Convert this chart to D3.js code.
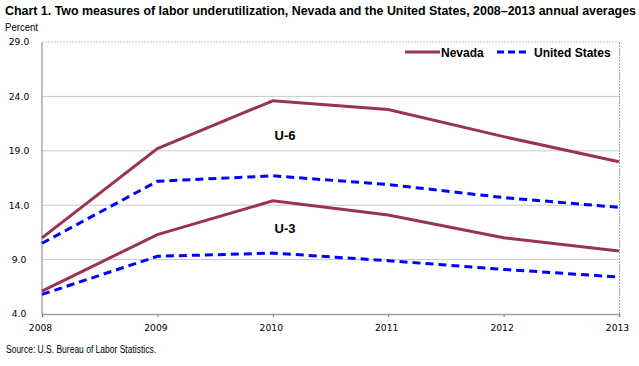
<!DOCTYPE html>
<html><head><meta charset="utf-8">
<script src="https://cdn.jsdelivr.net/npm/d3@7"></script>
<style>body{margin:0;background:#fff}svg{display:block}</style>
</head><body>
<svg id="c" width="639" height="366"></svg>
<script>
const years = [2008, 2009, 2010, 2011, 2012, 2013];
const nevadaU6 = [11.0, 19.2, 23.6, 22.8, 20.3, 18.0];
const usU6 = [10.5, 16.2, 16.7, 15.9, 14.7, 13.8];
const nevadaU3 = [6.1, 11.3, 14.4, 13.1, 11.0, 9.8];
const usU3 = [5.8, 9.3, 9.6, 8.9, 8.1, 7.4];
const yTicks = [4, 9, 14, 19, 24, 29];

const svg = d3.select("#c");
const x = d3.scaleLinear().domain([2008, 2013]).range([42, 619]);
const y = d3.scaleLinear().domain([4, 29]).range([314, 42]);

// gridlines
svg.append("g").selectAll("line").data(yTicks.filter(d => d > 4)).join("line")
  .attr("x1", 42).attr("x2", 619).attr("y1", d => y(d)).attr("y2", d => y(d))
  .attr("stroke", "#c4ccc4").attr("stroke-width", 1)
  .attr("stroke-dasharray", d => d === 29 ? "2,1" : null);
// right border
svg.append("line").attr("x1", 619.5).attr("x2", 619.5).attr("y1", 42).attr("y2", 314)
  .attr("stroke", "#a0a0a0").attr("stroke-dasharray", "2,1");

// y axis
const ya = d3.axisLeft(y).tickValues(yTicks).tickFormat(d3.format(".1f")).tickSize(0).tickPadding(0);
const yg = svg.append("g").attr("transform", "translate(41.5,0)").call(ya);
yg.select(".domain").attr("stroke", "#808080");
yg.selectAll("text").attr("font-family", "DejaVu Sans").attr("font-size", 9.2).attr("fill", "#000")
  .attr("text-anchor", "middle").attr("x", -22.5);

// x axis
const xa = d3.axisBottom(x).tickValues(years).tickFormat(d3.format("d")).tickSize(3).tickPadding(7);
const xg = svg.append("g").attr("transform", "translate(0,314)").call(xa);
xg.select(".domain").attr("stroke", "#a0a8a0").attr("stroke-width", 1.5);
xg.selectAll(".tick line").attr("stroke", "#808080");
xg.selectAll("text").attr("font-family", "DejaVu Sans").attr("font-size", 9.2).attr("fill", "#000")
  .attr("dx", -2);

const line = d3.line().x((d, i) => x(years[i])).y(d => y(d));
const series = [
  {v: usU6, c: "#0000ff", dash: "8,5"},
  {v: usU3, c: "#0000ff", dash: "8,5"},
  {v: nevadaU6, c: "#993355", dash: null},
  {v: nevadaU3, c: "#993355", dash: null}
];
series.forEach(s => {
  svg.append("path").datum(s.v).attr("d", line).attr("fill", "none")
    .attr("stroke", s.c).attr("stroke-width", 3).attr("stroke-dasharray", s.dash);
});

// series labels
svg.append("text").attr("x", 285).attr("y", 140).attr("text-anchor", "middle")
  .attr("font-family", "Liberation Sans").attr("font-weight", "bold").attr("font-size", 13).text("U-6");
svg.append("text").attr("x", 285).attr("y", 233).attr("text-anchor", "middle")
  .attr("font-family", "Liberation Sans").attr("font-weight", "bold").attr("font-size", 13).text("U-3");

// legend
const lg = svg.append("g");
lg.append("line").attr("x1", 405).attr("x2", 440).attr("y1", 52).attr("y2", 52)
  .attr("stroke", "#993355").attr("stroke-width", 3);
lg.append("text").attr("x", 441).attr("y", 56.5).attr("font-family", "Liberation Sans")
  .attr("font-weight", "bold").attr("font-size", 12).text("Nevada");
lg.append("line").attr("x1", 497).attr("x2", 527).attr("y1", 52).attr("y2", 52)
  .attr("stroke", "#0000ff").attr("stroke-width", 3).attr("stroke-dasharray", "7,4");
lg.append("text").attr("x", 534).attr("y", 56.5).attr("font-family", "Liberation Sans")
  .attr("font-weight", "bold").attr("font-size", 12).text("United States");

// title etc.
svg.append("text").attr("x", 5).attr("y", 15).attr("font-family", "Liberation Sans Narrow, Liberation Sans")
  .attr("font-weight", "bold").attr("font-size", 12.5)
  .attr("textLength", 631).attr("lengthAdjust", "spacingAndGlyphs")
  .text("Chart 1. Two measures of labor underutilization, Nevada and the United States, 2008\u20132013  annual averages");
svg.append("text").attr("x", 5).attr("y", 31).attr("font-family", "Liberation Sans")
  .attr("font-size", 10).attr("textLength", 33).attr("lengthAdjust", "spacingAndGlyphs").text("Percent");
svg.append("text").attr("x", 6).attr("y", 353).attr("font-family", "Liberation Sans")
  .attr("font-size", 10).attr("textLength", 150).attr("lengthAdjust", "spacingAndGlyphs")
  .text("Source: U.S. Bureau of Labor Statistics.");
</script>
</body></html>
